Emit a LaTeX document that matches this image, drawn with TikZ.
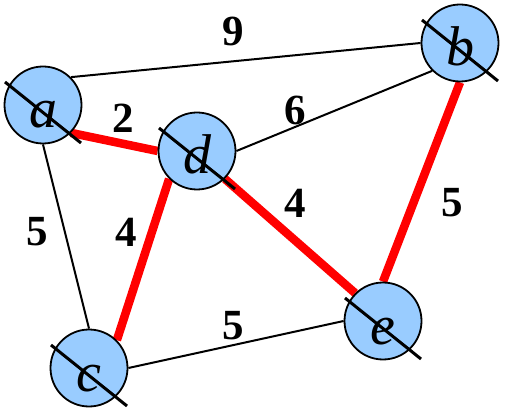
\documentclass[tikz,border=0pt]{standalone}
\usepackage{fontspec}
\setmainfont{Liberation Serif}
\usetikzlibrary{backgrounds}
\definecolor{vblue}{RGB}{153,204,255}
\definecolor{vred}{RGB}{255,0,0}

\begin{document}
\begin{tikzpicture}[x=1pt, y=-1pt,
    vertex/.style={circle, draw, line width=1.8pt, fill=vblue, minimum size=77pt, inner sep=0pt,
                   font=\fontsize{56}{60}\selectfont\itshape, text height=50pt, text depth=4pt},
    plain/.style={line width=2pt},
    tree/.style={line width=8.5pt, vred},
    weight/.style={font=\fontsize{43}{46}\selectfont\bfseries, inner sep=0pt},
    cross/.style={line width=3pt}
  ]
  \useasboundingbox (0,0) rectangle (508,411);

  \node[vertex] (a) at (43,105) {a};
  \node[vertex] (b) at (460,43) {b};
  \node[vertex] (d) at (197,151) {d};
  \node[vertex] (c) at (89,368) {c};
  \node[vertex] (e) at (383,321) {e};

  \foreach \n in {a,b,c,d,e}
    \draw[cross] ([shift={(-38,-23)}]\n.center) -- ([shift={(38,38)}]\n.center);

  \begin{scope}[on background layer]
    \draw[plain] (a.north east) -- (b.west);
    \draw[plain] (a.south) -- (c.north);
    \draw[plain] (d.east) -- (b.south west);
    \draw[plain] (c.east) -- (e.west);
    \draw[tree] (a.south east) -- (d.west);
    \draw[tree] (d.south west) -- (c.north east);
    \draw[tree] (d.south east) -- (e.north west);
    \draw[tree] (e.north) -- (b.south);
  \end{scope}

  \node[weight] (w-ab) at (233,31) {9};
  \node[weight] (w-ad) at (123,118) {2};
  \node[weight] (w-db) at (295,110) {6};
  \node[weight] (w-ac) at (37,232) {5};
  \node[weight] (w-dc) at (126,232) {4};
  \node[weight] (w-de) at (295,203) {4};
  \node[weight] (w-eb) at (452,203) {5};
  \node[weight] (w-ce) at (233,326) {5};
\end{tikzpicture}
\end{document}
